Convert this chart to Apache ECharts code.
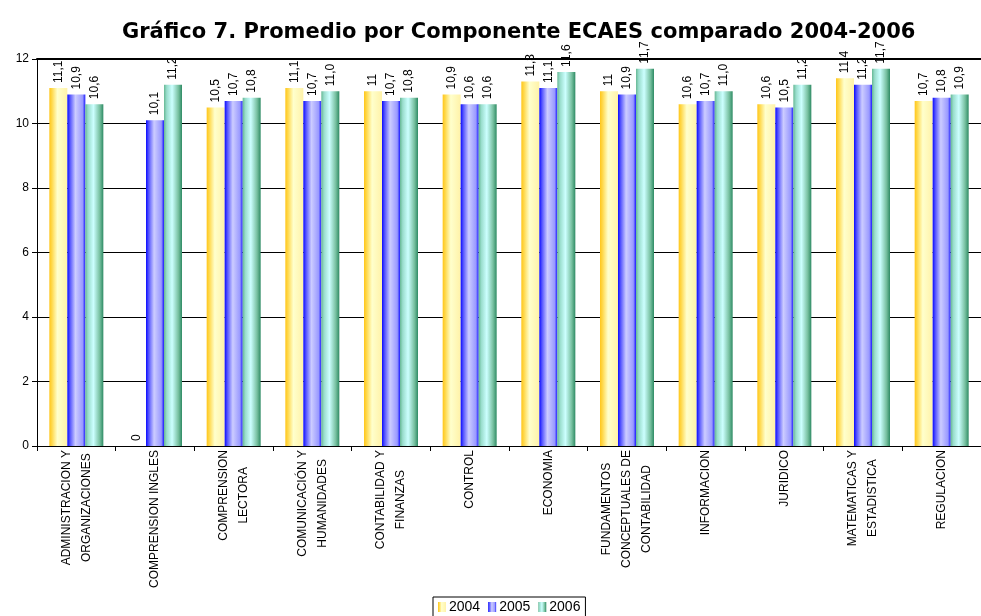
<!DOCTYPE html>
<html>
<head>
<meta charset="utf-8">
<script src="https://cdn.jsdelivr.net/npm/echarts@6/dist/echarts.min.js"></script>
<style>html,body{margin:0;padding:0;background:#fff}#c{width:981px;height:616px}</style>
</head>
<body>
<div id="c"></div>
<script>
var categories = [
  'ADMINISTRACION Y\nORGANIZACIONES',
  'COMPRENSION INGLES',
  'COMPRENSION\nLECTORA',
  'COMUNICACIÓN Y\nHUMANIDADES',
  'CONTABILIDAD Y\nFINANZAS',
  'CONTROL',
  'ECONOMIA',
  'FUNDAMENTOS\nCONCEPTUALES DE\nCONTABILIDAD',
  'INFORMACION',
  'JURIDICO',
  'MATEMATICAS Y\nESTADISTICA',
  'REGULACION'
];
var values2004 = [11.1, 0, 10.5, 11.1, 11, 10.9, 11.3, 11, 10.6, 10.6, 11.4, 10.7];
var values2005 = [10.9, 10.1, 10.7, 10.7, 10.7, 10.6, 11.1, 10.9, 10.7, 10.5, 11.2, 10.8];
var values2006 = [10.6, 11.2, 10.8, 11.0, 10.8, 10.6, 11.6, 11.7, 11.0, 11.2, 11.7, 10.9];
var yTicks = [0, 2, 4, 6, 8, 10, 12];
var seriesNames = ['2004', '2005', '2006'];

function grad(stops) {
  return new echarts.graphic.LinearGradient(0, 0, 1, 0, stops.map(function (s) { return { offset: s[0], color: s[1] }; }));
}
var colors = [
  grad([[0, '#FFC61A'], [0.15, '#FFD94D'], [0.45, '#FFFFCC'], [1, '#FFF2A8']]),
  grad([[0, '#0A0AFF'], [0.15, '#5555FF'], [0.45, '#CCCCFF'], [0.85, '#9999FF'], [1, '#1A1AFF']]),
  grad([[0, '#66B894'], [0.15, '#99DDCC'], [0.45, '#CCFFFF'], [0.8, '#77C0A0'], [1, '#2E8B64']])
];
var fmtGeneral = function (p) { return String(p.value).replace('.', ','); };
var fmtFixed = function (p) { return p.value.toFixed(1).replace('.', ','); };
var fmts = [fmtGeneral, fmtFixed, fmtFixed];
var datasets = [values2004, values2005, values2006];

var chart = echarts.init(document.getElementById('c'), null, { renderer: 'canvas' });
var series = seriesNames.map(function (n, i) {
  return {
    name: n,
    type: 'bar',
    data: datasets[i],
    barWidth: 18,
    barGap: '0%',
    itemStyle: { color: colors[i] },
    label: {
      show: true,
      position: 'top',
      rotate: 90,
      align: 'left',
      verticalAlign: 'middle',
      distance: 5,
      fontFamily: 'Liberation Sans',
      fontSize: 12,
      color: '#000',
      formatter: fmts[i]
    },
    emphasis: { disabled: true },
    animation: false
  };
});

chart.setOption({
  animation: false,
  title: {
    text: 'Gráfico 7. Promedio por Componente ECAES comparado 2004-2006',
    left: 117,
    top: 17,
    textStyle: { fontFamily: 'DejaVu Sans', fontWeight: 'bold', fontSize: 21, color: '#000' }
  },
  legend: {
    data: seriesNames,
    left: 433,
    top: 597,
    icon: 'rect',
    itemWidth: 8,
    itemHeight: 10,
    itemGap: 8,
    borderColor: '#000',
    borderWidth: 1,
    borderRadius: 0,
    padding: [3, 5, 3, 5],
    textStyle: { fontFamily: 'Liberation Sans', fontSize: 14, color: '#000', padding: [0, 0, 0, -2] }
  },
  grid: { left: 37, right: -12, top: 59, bottom: 170, containLabel: false },
  xAxis: [{
    type: 'category',
    data: categories,
    position: 'bottom',
    axisLine: { lineStyle: { color: '#000', width: 1 } },
    axisTick: { show: true, length: 5, lineStyle: { color: '#000' } },
    axisLabel: {
      rotate: 90,
      margin: 4,
      interval: 0,
      formatter: function (v) { return v.split('\n').map(function (s) { return '{c|' + s + '}'; }).join('\n'); },
      rich: { c: { align: 'center', fontFamily: 'Liberation Sans', fontSize: 12, lineHeight: 20, color: '#000' } }
    }
  }, {
    type: 'category',
    data: categories,
    position: 'top',
    axisLine: { lineStyle: { color: '#000', width: 2 } },
    axisTick: { show: false },
    axisLabel: { show: false }
  }],
  yAxis: {
    type: 'value',
    min: yTicks[0],
    max: yTicks[yTicks.length - 1],
    interval: yTicks[1] - yTicks[0],
    axisLine: { show: true, lineStyle: { color: '#000' } },
    axisTick: { show: true, length: 5, lineStyle: { color: '#000' } },
    axisLabel: { margin: 8, fontFamily: 'Liberation Sans', fontSize: 12, color: '#000' },
    splitLine: { show: true, lineStyle: { color: '#000', width: 1 } }
  },
  series: series
});
</script>
</body>
</html>
